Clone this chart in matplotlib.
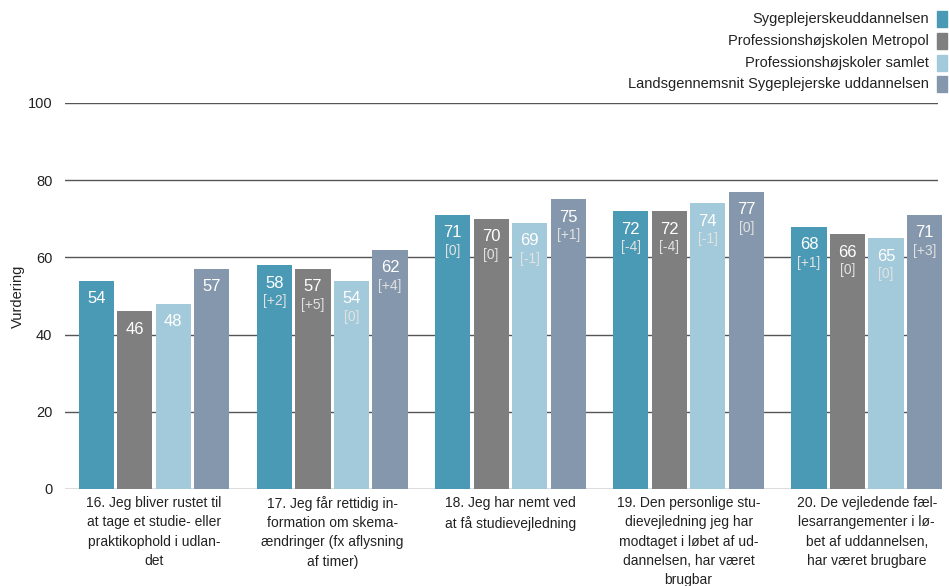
import matplotlib.pyplot as plt
from matplotlib.patches import Rectangle
import numpy as np

plt.rcParams['font.family'] = ['Liberation Sans', 'DejaVu Sans']

# data
categories = ['16. Jeg bliver rustet til\nat tage et studie- eller\npraktikophold i udlan-\ndet',
              '17. Jeg får rettidig in-\nformation om skema-\nændringer (fx aflysning\naf timer)',
              '18. Jeg har nemt ved\nat få studievejledning',
              '19. Den personlige stu-\ndievejledning jeg har\nmodtaget i løbet af ud-\ndannelsen, har været\nbrugbar',
              '20. De vejledende fæl-\nlesarrangementer i lø-\nbet af uddannelsen,\nhar været brugbare']
series = ['Sygeplejerskeuddannelsen',
          'Professionshøjskolen Metropol',
          'Professionshøjskoler samlet',
          'Landsgennemsnit Sygeplejerske uddannelsen']
colors = ['#4A9AB6', '#7F7F7F', '#A3CADA', '#8597AD']

values = [[54, 58, 71, 72, 68],
          [46, 57, 70, 72, 66],
          [48, 54, 69, 74, 65],
          [57, 62, 75, 77, 71]]
changes = [[None, '[+2]', '[0]', '[-4]', '[+1]'],
           [None, '[+5]', '[0]', '[-4]', '[0]'],
           [None, '[0]', '[-1]', '[-1]', '[0]'],
           [None, '[+4]', '[+1]', '[0]', '[+3]']]

fig = plt.figure(figsize=(9.49, 5.86), dpi=100)
W, H = 949, 586
ax = fig.add_axes([65 / W, 1 - 489 / H, (938 - 65) / W, (489 - 103) / H])

x = np.arange(len(categories))
step = 0.216
width = 0.197

# grid lines behind the bars
for yv in [0, 20, 40, 60, 80, 100]:
    ax.axhline(yv, color='#555555', lw=1, zorder=0)

for i, (vals, chg) in enumerate(zip(values, changes)):
    pos = x + (i - 1.5) * step
    ax.bar(pos, vals, width, color=colors[i], zorder=2, clip_on=False)
    for p, v, c in zip(pos, vals, chg):
        ax.annotate(str(v), (p, v), xytext=(0, -18), textcoords='offset pixels',
                    ha='center', va='center', color='white', fontsize=12, zorder=3)
        if c:
            ax.annotate(c, (p, v), xytext=(0, -36), textcoords='offset pixels',
                        ha='center', va='center', color='#E2E2E2', fontsize=10, zorder=3)

ax.set_xlim(-0.5, 4.40)
ax.set_ylim(0, 100)
ax.set_yticks([0, 20, 40, 60, 80, 100])
ax.set_xticks(x)
ax.set_xticklabels(categories, fontsize=10, linespacing=1.48, color='#222222')
ax.tick_params(axis='y', length=0, pad=9, labelsize=10.5, colors='#222222')
ax.tick_params(axis='x', length=0, pad=5)
for s in ax.spines.values():
    s.set_visible(False)
fig.text(18 / W, 1 - 296 / H, 'Vurdering', rotation=90, ha='center', va='center',
         fontsize=10.5, color='#222222')

# legend
rows = [19, 41, 63, 84]
for name, col, yy in zip(series, colors, rows):
    fig.text(929 / W, 1 - yy / H, name, ha='right', va='center', fontsize=10.5, color='#222222')
    fig.patches.append(Rectangle((937 / W, 1 - (yy + 8) / H), 10 / W, 16 / H,
                                 transform=fig.transFigure, color=col, figure=fig))

fig.savefig('out.png', dpi=100)
